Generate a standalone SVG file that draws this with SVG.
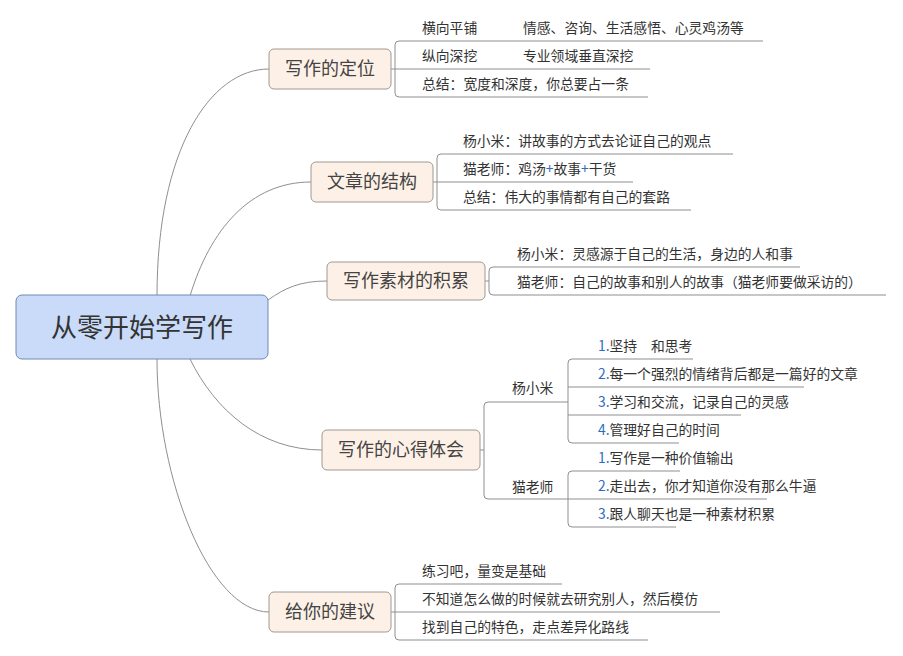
<svg xmlns="http://www.w3.org/2000/svg" width="903" height="656" viewBox="0 0 903 656">
<style>
text{font-family:"Noto Sans CJK SC","Liberation Sans",sans-serif;fill:#333}
.b{fill:#fdf1e7;stroke:#a09890;stroke-width:1}
.bt{font-size:18px;text-anchor:middle;fill:#444}
.t{font-size:13.8px}
.c path{fill:none;stroke:#8f8f8f;stroke-width:1}
.n{fill:#2a6ebd}
</style>
<rect width="903" height="656" fill="#fff"/>
<g class="c" id="connectors">
<path d="M157,296 C157,150 210,69 269,69"/>
<path d="M190,296 C210,230 250,182 311,182"/>
<path d="M268,300 C285,288 300,281 327,281"/>
<path d="M190,359 C215,410 260,450 322,450"/>
<path d="M157,359 C157,480 210,612 269,612"/>
<path d="M391,69 H395 M763,41 H399 Q395,41 395,45 V93 Q395,97 399,97 H648 M395,69 H650"/>
<path d="M433,182 H437 M733,154 H441 Q437,154 437,158 V206 Q437,210 441,210 H691 M437,182 H633"/>
<path d="M485,281 H489 M800,267 H493 Q489,267 489,271 V291 Q489,295 493,295 H886"/>
<path d="M480,450 H484 M568,402 H488 Q484,402 484,406 V495 Q484,499 488,499 H568"/>
<path d="M693,359 H572 Q568,359 568,363 V439 Q568,443 572,443 H679 M568,387 H804 M568,415 H741"/>
<path d="M680,471 H572 Q568,471 568,475 V523 Q568,527 572,527 H676 M568,499 H767"/>
<path d="M391,612 H395 M562,584 H399 Q395,584 395,588 V636 Q395,640 399,640 H648 M395,612 H720"/>
</g>
<g id="root"><rect x="16" y="295" width="252" height="64" rx="6" fill="#c9dbf8" stroke="#6f88b8"/><text x="142" y="337" font-size="26" text-anchor="middle" fill="#333">从零开始学写作</text></g>
<g id="n1"><rect class="b" x="269" y="49" width="122" height="40" rx="5"/><text class="bt" x="330" y="75">写作的定位</text>
<text class="t" x="422" y="33">横向平铺</text><text class="t" x="523" y="33">情感、咨询、生活感悟、心灵鸡汤等</text>
<text class="t" x="422" y="61">纵向深挖</text><text class="t" x="523" y="61">专业领域垂直深挖</text>
<text class="t" x="422" y="89">总结：宽度和深度，你总要占一条</text></g>
<g id="n2"><rect class="b" x="311" y="162" width="122" height="40" rx="5"/><text class="bt" x="372" y="188">文章的结构</text>
<text class="t" x="463" y="146">杨小米：讲故事的方式去论证自己的观点</text>
<text class="t" x="463" y="174">猫老师：鸡汤<tspan class="n">+</tspan>故事<tspan class="n">+</tspan>干货</text>
<text class="t" x="463" y="202">总结：伟大的事情都有自己的套路</text></g>
<g id="n3"><rect class="b" x="327" y="262" width="158" height="38" rx="5"/><text class="bt" x="406" y="287">写作素材的积累</text>
<text class="t" x="517" y="259">杨小米：灵感源于自己的生活，身边的人和事</text>
<text class="t" x="517" y="287">猫老师：自己的故事和别人的故事（猫老师要做采访的）</text></g>
<g id="n4"><rect class="b" x="322" y="430" width="158" height="40" rx="5"/><text class="bt" x="401" y="456">写作的心得体会</text>
<text class="t" x="512" y="393">杨小米</text><text class="t" x="512" y="492">猫老师</text>
<text class="t" x="598" y="351"><tspan class="n">1.</tspan>坚持　和思考</text>
<text class="t" x="598" y="379"><tspan class="n">2.</tspan>每一个强烈的情绪背后都是一篇好的文章</text>
<text class="t" x="598" y="407"><tspan class="n">3.</tspan>学习和交流，记录自己的灵感</text>
<text class="t" x="598" y="435"><tspan class="n">4.</tspan>管理好自己的时间</text>
<text class="t" x="598" y="463"><tspan class="n">1.</tspan>写作是一种价值输出</text>
<text class="t" x="598" y="491"><tspan class="n">2.</tspan>走出去，你才知道你没有那么牛逼</text>
<text class="t" x="598" y="519"><tspan class="n">3.</tspan>跟人聊天也是一种素材积累</text></g>
<g id="n5"><rect class="b" x="269" y="592" width="122" height="40" rx="5"/><text class="bt" x="330" y="618">给你的建议</text>
<text class="t" x="422" y="576">练习吧，量变是基础</text>
<text class="t" x="422" y="604">不知道怎么做的时候就去研究别人，然后模仿</text>
<text class="t" x="422" y="632">找到自己的特色，走点差异化路线</text></g>
</svg>
